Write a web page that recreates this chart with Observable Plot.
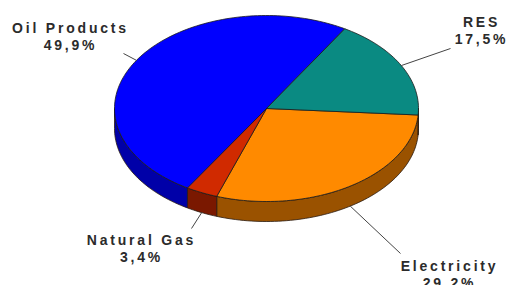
<!DOCTYPE html>
<html>
<head>
<meta charset="utf-8">
<script src="https://cdn.jsdelivr.net/npm/d3@7"></script>
<script src="https://cdn.jsdelivr.net/npm/@observablehq/plot@0.6"></script>
<style>
  html, body { margin: 0; padding: 0; background: #fff; }
  #chart svg text { letter-spacing: 2.8px; }
</style>
</head>
<body>
<div id="chart"></div>
<script>
// ---- data (drawing order, clockwise from ~3 o'clock) ----
const categories = ["Electricity", "Natural Gas", "Oil Products", "RES"];
const shares = [29.2, 3.4, 49.9, 17.5];

// ---- styles ----
const topColors = ["#ff8a00", "#d02a00", "#0000ff", "#0a8a82"];
const sideColors = ["#9a5200", "#7a1800", "#0000a8", "#05605c"];

// ---- layout ----
const W = 509, H = 285;
const cx = 266, cy = 108, rx = 152, ry = 93, depth = 20;
const startDeg = 4; // screen angle (0 = east, clockwise) where first slice starts
const labelLayout = [ // text anchor (top of first line) and leader end
  {tx: 449, ty: 258, lx: 400, ly: 253},
  {tx: 141, ty: 232, lx: 191, ly: 228},
  {tx: 70,  ty: 20,  lx: 123, ly: 53},
  {tx: 481, ty: 14,  lx: 450, ly: 48}
];

const rad = Math.PI / 180;
const pie = d3.pie().sort(null).value(d => d.value)
  .startAngle((startDeg + 90) * rad).endAngle((startDeg + 90 + 360) * rad);
const rows = categories.map((c, i) => ({name: c, value: shares[i], i}));
const arcs = pie(rows).map(a => ({...a, t0: a.startAngle - Math.PI / 2, t1: a.endAngle - Math.PI / 2}));

const px = t => cx + rx * Math.cos(t);
const py = t => cy + ry * Math.sin(t);

function arcPts(t0, t1, dy = 0) {
  const n = Math.max(2, Math.ceil(Math.abs(t1 - t0) / (rad * 1.5)));
  return d3.range(n + 1).map(k => {
    const t = t0 + (t1 - t0) * k / n;
    return {x: px(t), y: py(t) + dy};
  });
}

// side faces (front half: screen angles 0..PI, and 2PI..3PI)
const sidePts = [];
arcs.forEach(a => {
  [[0, Math.PI], [2 * Math.PI, 3 * Math.PI]].forEach(([lo, hi], j) => {
    const s = Math.max(a.t0, lo), e = Math.min(a.t1, hi);
    if (e > s) {
      const key = a.data.name + "-side" + j;
      const pts = [...arcPts(s, e), ...arcPts(e, s, depth)];
      pts.push(pts[0]);
      pts.forEach(p => sidePts.push({...p, key, color: sideColors[a.data.i]}));
    }
  });
});

// top faces
const topPts = [];
arcs.forEach(a => {
  const key = a.data.name + "-top";
  const pts = [{x: cx, y: cy}, ...arcPts(a.t0, a.t1), {x: cx, y: cy}];
  pts.forEach(p => topPts.push({...p, key, color: topColors[a.data.i]}));
});

// labels & leaders
const fmt = v => v.toFixed(1).replace(".", ",") + "%";
const labels = arcs.map(a => {
  const t = (a.t0 + a.t1) / 2;
  const s = Math.sin(t) > 0 ? depth : 0;
  const L = labelLayout[a.data.i];
  return {
    text: a.data.name + "\n" + fmt(a.data.value),
    x1: px(t), y1: py(t) + s, x2: L.lx, y2: L.ly, tx: L.tx, ty: L.ty
  };
});

const chart = Plot.plot({
  width: W, height: H,
  margin: 0,
  x: {domain: [0, W], axis: null},
  y: {domain: [H, 0], axis: null},
  color: {type: "identity"},
  style: {fontFamily: "'Liberation Sans', Arial, sans-serif", background: "#fff"},
  marks: [
    Plot.line(sidePts, {x: "x", y: "y", z: "key", fill: "color", stroke: "#2a1a10", strokeWidth: 0.8, curve: "linear"}),
    Plot.line(topPts, {x: "x", y: "y", z: "key", fill: "color", stroke: "#1a1a1a", strokeWidth: 0.8, curve: "linear"}),
    Plot.link(labels, {x1: "x1", y1: "y1", x2: "x2", y2: "y2", stroke: "#444", strokeWidth: 1}),
    Plot.text(labels, {x: "tx", y: "ty", text: "text", lineAnchor: "top", lineHeight: 1.25,
      fontSize: 14, fontWeight: "bold", fill: "#2b2b2b", textAnchor: "middle"})
  ]
});
document.getElementById("chart").appendChild(chart);
</script>
</body>
</html>
